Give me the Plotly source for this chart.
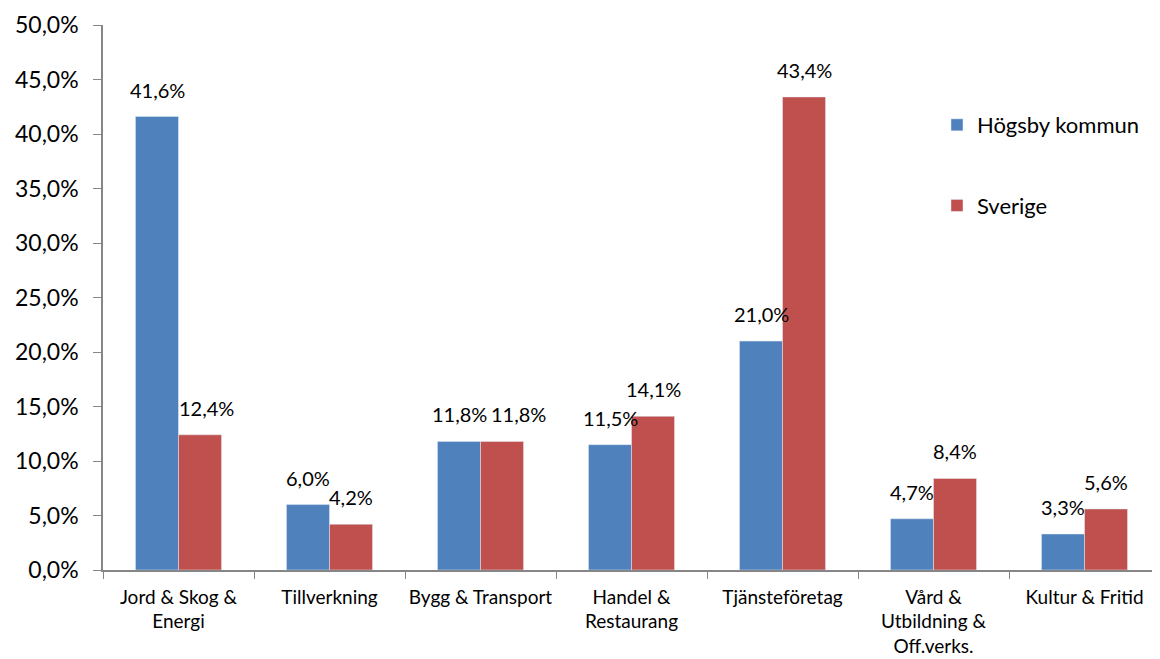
import plotly.graph_objects as go

categories = ["Jord & Skog &<br>Energi", "Tillverkning", "Bygg & Transport",
              "Handel &<br>Restaurang", "Tjänsteföretag",
              "Vård &<br>Utbildning &<br>Off.verks.", "Kultur & Fritid"]
hogsby = [41.6, 6.0, 11.8, 11.5, 21.0, 4.7, 3.3]
sverige = [12.4, 4.2, 11.8, 14.1, 43.4, 8.4, 5.6]
y_ticks = [0, 5, 10, 15, 20, 25, 30, 35, 40, 45, 50]

FONT = "Lato"
BLUE = "#4F81BD"
RED = "#C0504D"

def fmt(v):
    return f"{v:.1f}".replace(".", ",") + "%"

fig = go.Figure()
fig.add_trace(go.Bar(x=categories, y=hogsby, name="Högsby kommun",
                     marker=dict(color=BLUE), legendgroup="a"))
fig.add_trace(go.Bar(x=categories, y=sverige, name="Sverige",
                     marker=dict(color=RED), legendgroup="b"))

# small horizontal nudges (pixels) for labels that would otherwise collide
nudge_b = {2: 16, 0: 6}

annotations = []
for i, (a, b) in enumerate(zip(hogsby, sverige)):
    annotations.append(dict(x=i, y=a, xref="x", yref="y", text=fmt(a), showarrow=False,
                            xshift=-21.5, yshift=13, yanchor="bottom",
                            font=dict(family=FONT, size=20, color="#000")))
    annotations.append(dict(x=i, y=b, xref="x", yref="y", text=fmt(b), showarrow=False,
                            xshift=21.5 + nudge_b.get(i, 0), yshift=13, yanchor="bottom",
                            font=dict(family=FONT, size=20, color="#000")))

# page body has an 8px default margin, so the figure is sized to fit inside it
fig.update_layout(
    width=1152, height=651,
    margin=dict(l=95, r=0, t=17, b=89),
    plot_bgcolor="white", paper_bgcolor="white",
    barmode="group", bargap=0.43, bargroupgap=0,
    font=dict(family=FONT, color="#000"),
    annotations=annotations,
    legend=dict(x=0.789, y=0.855, xanchor="left", yanchor="top",
                font=dict(family=FONT, size=22, color="#000"),
                tracegroupgap=49, itemwidth=30, bgcolor="rgba(0,0,0,0)"),
    xaxis=dict(type="category", showline=True, linecolor="#868686", linewidth=1.5,
               ticks="outside", tickson="boundaries", ticklen=7, tickcolor="#868686",
               tickfont=dict(family=FONT, size=19, color="#000"), tickangle=0,
               ticklabelstandoff=9,
               range=[-0.5, 6.5], automargin=False),
    yaxis=dict(range=[0, 50], tickvals=y_ticks, ticktext=[fmt(v) for v in y_ticks],
               showline=True, linecolor="#868686", linewidth=1.5,
               ticks="outside", ticklen=8, tickcolor="#868686",
               showgrid=False, zeroline=False, automargin=False,
               ticklabelstandoff=10,
               tickfont=dict(family=FONT, size=23, color="#000")),
)

fig.write_html("out.html")
